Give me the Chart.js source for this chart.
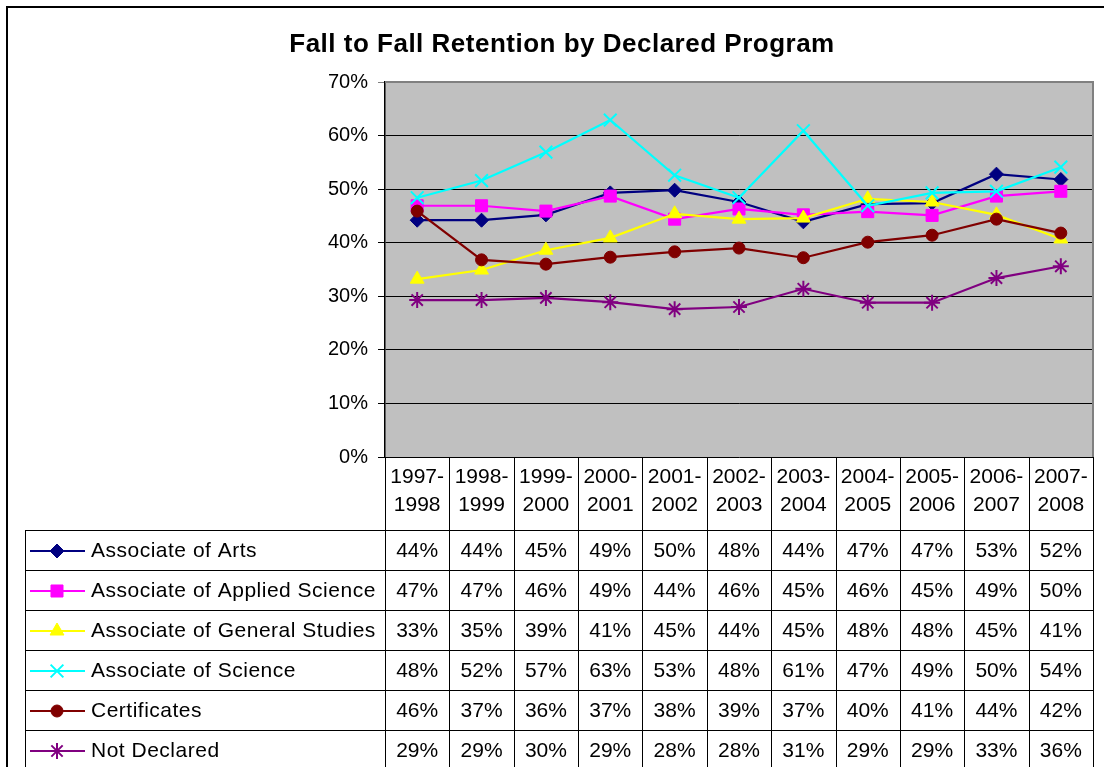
<!DOCTYPE html>
<html>
<head>
<meta charset="utf-8">
<script src="https://cdn.jsdelivr.net/npm/chart.js@4/dist/chart.umd.min.js"></script>
<style>
  html, body { margin: 0; padding: 0; background: #fff; }
  canvas { display: block; }
</style>
</head>
<body>
<canvas id="chart" width="1104" height="767"></canvas>
<script>
const chartTitle = "Fall to Fall Retention by Declared Program";

const categories = ["1997-1998", "1998-1999", "1999-2000", "2000-2001", "2001-2002", "2002-2003",
                    "2003-2004", "2004-2005", "2005-2006", "2006-2007", "2007-2008"];

const seriesNames = ["Associate of Arts", "Associate of Applied Science", "Associate of General Studies",
                     "Associate of Science", "Certificates", "Not Declared"];

// retention in percent
const associateArts   = [44.2, 44.2, 45.2, 49.3, 49.8, 47.6, 43.9, 47.2, 47.4, 52.8, 51.8];
const appliedScience  = [46.9, 46.9, 45.9, 48.7, 44.4, 46.3, 45.2, 45.8, 45.1, 48.7, 49.6];
const generalStudies  = [33.2, 34.9, 38.6, 40.9, 45.4, 44.4, 44.6, 48.2, 47.6, 45.2, 40.7];
const science         = [48.4, 51.6, 56.9, 62.9, 52.6, 48.4, 60.9, 46.9, 49.3, 49.6, 54.1];
const certificates    = [45.9, 36.8, 36.0, 37.3, 38.3, 39.0, 37.2, 40.1, 41.4, 44.4, 41.8];
const notDeclared     = [29.3, 29.3, 29.7, 28.9, 27.6, 28.0, 31.4, 28.8, 28.8, 33.4, 35.6];

const yTicks = [0, 10, 20, 30, 40, 50, 60, 70];

const FONT = '"Liberation Sans", Arial, sans-serif';

/* SERIES STYLE */
const looks = [
    { color: "#000080", point: "rectRot",  radius: 7 },
    { color: "#FF00FF", point: "rect",     radius: 8.5 },
    { color: "#FFFF00", point: "triangle", radius: 8 },
    { color: "#00FFFF", point: "crossRot", radius: 9 },
    { color: "#800000", point: "circle",   radius: 6 },
    { color: "#800080", point: "star",     radius: 8 }
];
const allSeries = [associateArts, appliedScience, generalStudies, science, certificates, notDeclared];

function isStroked(look) {
    return look.point === "crossRot" || look.point === "star";
}

const datasets = allSeries.map((vals, i) => ({
    label: seriesNames[i],
    data: vals,
    borderColor: looks[i].color,
    backgroundColor: looks[i].color,
    borderWidth: 2.2,
    pointStyle: looks[i].point,
    pointRadius: looks[i].radius,
    pointBorderWidth: isStroked(looks[i]) ? 2 : 1,
    pointBorderColor: looks[i].color,
    pointBackgroundColor: looks[i].color,
    tension: 0,
    order: allSeries.length - i
}));

/* MARKER FOR TABLE LEGEND */
function drawMarker(ctx, look, x, y) {
    const opts = { pointStyle: look.point, radius: look.radius, borderWidth: 1, rotation: 0 };
    ctx.fillStyle = look.color;
    ctx.strokeStyle = look.color;
    ctx.lineWidth = isStroked(look) ? 2 : 1;
    if (Chart.helpers && Chart.helpers.drawPoint) {
        Chart.helpers.drawPoint(ctx, opts, x, y);
    } else {
        ctx.beginPath();
        ctx.arc(x, y, look.radius, 0, Math.PI * 2);
        ctx.fill();
    }
}

/* PLOT BACKGROUND + TABLE */
const excelFrame = {
    id: "excelFrame",
    beforeDraw(chart) {
        const { ctx, chartArea: a } = chart;
        ctx.save();
        ctx.fillStyle = "#fff";
        ctx.fillRect(0, 0, chart.width, chart.height);
        ctx.fillStyle = "#C0C0C0";
        ctx.fillRect(a.left, a.top, a.right - a.left, a.bottom - a.top);
        ctx.restore();
    },
    beforeDatasetsDraw(chart) {
        const { ctx, chartArea: a } = chart;
        ctx.save();
        ctx.strokeStyle = "#808080";
        ctx.lineWidth = 2;
        ctx.beginPath();
        ctx.moveTo(a.left, a.top);
        ctx.lineTo(a.right, a.top);
        ctx.lineTo(a.right, a.bottom);
        ctx.stroke();
        ctx.restore();
    },
    afterDraw(chart) {
        const { ctx, chartArea: a } = chart;
        const colW = (a.right - a.left) / categories.length;
        const headTop = a.bottom;
        const bodyTop = 530;
        const rowH = 40;
        const canSpace = "letterSpacing" in ctx;

        ctx.save();

        // outer chart border
        ctx.strokeStyle = "#000";
        ctx.lineWidth = 2;
        ctx.strokeRect(7, 7, 1400, 1400);

        // title
        ctx.fillStyle = "#000";
        ctx.font = "bold 26px " + FONT;
        ctx.textAlign = "center";
        ctx.textBaseline = "middle";
        if (canSpace) ctx.letterSpacing = "0.5px";
        ctx.fillText(chartTitle, 562, 45);
        if (canSpace) ctx.letterSpacing = "0px";

        // grid of the data table
        ctx.lineWidth = 1;
        ctx.strokeStyle = "#000";
        ctx.beginPath();
        for (let i = 0; i <= categories.length; i++) {
            const x = Math.round(a.left + i * colW) + 0.5;
            ctx.moveTo(x, headTop);
            ctx.lineTo(x, chart.height);
        }
        for (let r = 0; r <= seriesNames.length; r++) {
            const y = bodyTop + r * rowH + 0.5;
            ctx.moveTo(25, y);
            ctx.lineTo(a.right, y);
        }
        ctx.moveTo(25.5, bodyTop);
        ctx.lineTo(25.5, chart.height);
        ctx.stroke();

        // header: category labels on two lines
        ctx.font = "21px " + FONT;
        ctx.fillStyle = "#000";
        categories.forEach((c, i) => {
            const cx = a.left + (i + 0.5) * colW;
            const parts = c.split("-");
            ctx.fillText(parts[0] + "-", cx, 477);
            ctx.fillText(parts[1], cx, 505);
        });

        // body rows
        seriesNames.forEach((name, r) => {
            const cy = bodyTop + r * rowH + 21;
            const look = looks[r];

            ctx.strokeStyle = look.color;
            ctx.lineWidth = 2.2;
            ctx.beginPath();
            ctx.moveTo(30, cy);
            ctx.lineTo(85, cy);
            ctx.stroke();
            drawMarker(ctx, look, 57, cy);

            ctx.fillStyle = "#000";
            ctx.textAlign = "left";
            ctx.font = "21px " + FONT;
            if (canSpace) ctx.letterSpacing = "0.5px";
            ctx.fillText(name, 91, cy);
            if (canSpace) ctx.letterSpacing = "0px";

            ctx.textAlign = "center";
            allSeries[r].forEach((v, i) => {
                const cx = a.left + (i + 0.5) * colW;
                ctx.fillText(Math.round(v) + "%", cx, cy);
            });
        });

        ctx.restore();
    }
};

new Chart(document.getElementById("chart"), {
    type: "line",
    data: { labels: categories, datasets },
    options: {
        responsive: false,
        animation: false,
        devicePixelRatio: 1,
        layout: { padding: { left: 0, right: 10, top: 82, bottom: 310 } },
        plugins: {
            legend: { display: false },
            title: { display: false },
            tooltip: { enabled: false }
        },
        scales: {
            x: {
                type: "category",
                display: false,
                offset: true
            },
            y: {
                min: yTicks[0],
                max: yTicks[yTicks.length - 1],
                afterBuildTicks: (scale) => { scale.ticks = yTicks.map(v => ({ value: v })); },
                afterFit: (scale) => { scale.width = 385; },
                ticks: {
                    callback: (v) => v + "%",
                    color: "#000",
                    font: { family: FONT, size: 20 },
                    padding: 10
                },
                grid: {
                    color: (c) => c.tick && c.tick.value === 70 ? "#808080" : "#000",
                    lineWidth: 1,
                    tickLength: 7,
                    drawTicks: true
                },
                border: { display: true, color: "#000", width: 1.5 }
            }
        }
    },
    plugins: [excelFrame]
});
</script>
</body>
</html>
